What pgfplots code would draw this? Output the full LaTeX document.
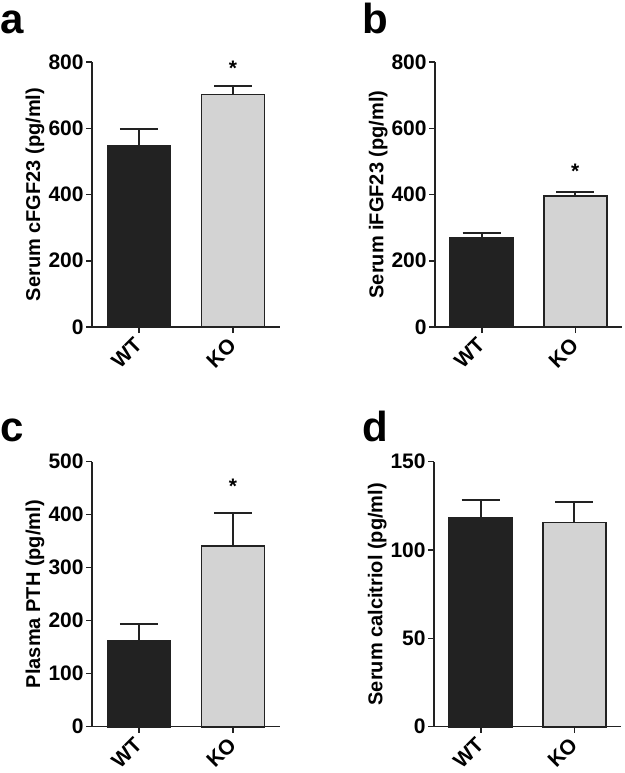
\documentclass[border=0pt]{standalone}
\usepackage{fontspec}
\setmainfont{Liberation Sans}
\usepackage{pgfplots}
\pgfplotsset{compat=1.18}

\definecolor{ink}{HTML}{222222}
\definecolor{wtfill}{HTML}{222222}
\definecolor{kofill}{HTML}{D3D3D3}

\newcommand{\lblfont}{\bfseries\fontsize{10.5}{12}\selectfont}

\pgfplotsset{
  panel/.style={
    scale only axis,
    width=94pt, height=132.5pt,
    axis x line=bottom, axis y line=left,
    axis line style={line width=0.75pt, color=ink, -},
    xmin=-0.5, xmax=1.5, ymin=0,
    xtick={0,1}, xticklabels={WT,KO},
    minor tick num=0,
    tick align=outside, major tick length=3pt,
    tick style={line width=0.75pt, color=ink},
    /pgf/number format/assume math mode=true,
    x tick label style={xshift=-3pt, rotate=45, anchor=north east, font=\lblfont, inner sep=1pt},
    y tick label style={font=\lblfont, inner sep=1pt},
    every axis y label/.style={at={(axis description cs:-0.303,0.5)}, rotate=90, anchor=center, font=\bfseries\fontsize{10}{12}\selectfont},
    clip=false,
  },
  errs/.style={
    error bars/y dir=plus, error bars/y explicit,
    error bars/error bar style={line width=1pt, color=ink},
    error bars/error mark options={rotate=90, mark size=9.5pt, line width=1pt, color=ink}},
  wt/.style={ybar, bar shift=0pt, bar width=31.5pt, fill=wtfill, draw=ink, line width=0.9pt, errs},
  ko/.style={ybar, bar shift=0pt, bar width=31.5pt, fill=kofill, draw=ink, line width=0.9pt, errs},
}

\begin{document}
\begin{tikzpicture}
\path[use as bounding box] (0,0) rectangle (312.5pt,-386.5pt);

% a
\begin{axis}[panel, at={(46pt,-163.5pt)}, anchor=south west,
  ymax=800, ytick={0,200,400,600,800}, ylabel={Serum cFGF23 (pg/ml)}]
\addplot[wt] coordinates {(0,547) +- (0,51)};
\addplot[ko] coordinates {(1,702) +- (0,27)};
\node[font=\lblfont] at (axis cs:1,780) {*};
\end{axis}

% b
\begin{axis}[panel, at={(217.5pt,-163.5pt)}, anchor=south west, width=93.5pt,
  ymax=800, ytick={0,200,400,600,800}, ylabel={Serum iFGF23 (pg/ml)}]
\addplot[wt] coordinates {(0,269) +- (0,14)};
\addplot[ko] coordinates {(1,395) +- (0,13)};
\node[font=\lblfont] at (axis cs:1,470) {*};
\end{axis}

% c
\begin{axis}[panel, at={(46pt,-363.35pt)}, anchor=south west,
  ymax=500, ytick={0,100,200,300,400,500}, ylabel={Plasma PTH (pg/ml)}]
\addplot[wt] coordinates {(0,162) +- (0,31)};
\addplot[ko] coordinates {(1,341) +- (0,63)};
\node[font=\lblfont] at (axis cs:1,454) {*};
\end{axis}

% d
\begin{axis}[panel, at={(217pt,-363.35pt)}, anchor=south west, width=93.5pt,
  ymax=150, ytick={0,50,100,150}, ylabel={Serum calcitriol (pg/ml)}]
\addplot[wt] coordinates {(0,118.4) +- (0,9.9)};
\addplot[ko] coordinates {(1,115.6) +- (0,11.4)};
\end{axis}

\node[anchor=base west, inner sep=0pt, font=\bfseries\fontsize{21}{22}\selectfont] at (0pt,-16.5pt) {a};
\node[anchor=base west, inner sep=0pt, font=\bfseries\fontsize{21}{22}\selectfont] at (181pt,-16.5pt) {b};
\node[anchor=base west, inner sep=0pt, font=\bfseries\fontsize{21}{22}\selectfont] at (0pt,-220.5pt) {c};
\node[anchor=base west, inner sep=0pt, font=\bfseries\fontsize{21}{22}\selectfont] at (181pt,-220.5pt) {d};
\end{tikzpicture}
\end{document}
